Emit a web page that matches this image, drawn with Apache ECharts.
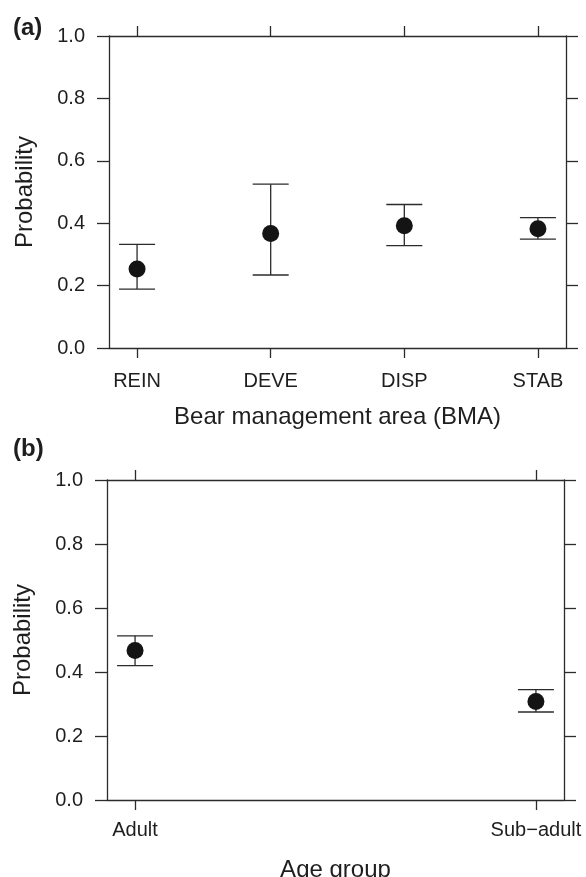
<!DOCTYPE html>
<html lang="en">
<head>
  <meta charset="UTF-8">
  <script src="https://cdn.jsdelivr.net/npm/echarts@6/dist/echarts.min.js"></script>
  <title>Probability by BMA and age group</title>
  <style>
    html, body { margin: 0; padding: 0; background: #fff; }
  </style>
</head>
<body>
  <div id="chart" style="width: 586px;height:877px;"></div>

  <script>
    // panel (a): bear management area
    var bmaCategories = ['REIN', 'DEVE', 'DISP', 'STAB'];
    var bmaEstimate = [0.253, 0.367, 0.392, 0.382];
    var bmaLower = [0.189, 0.234, 0.328, 0.349];
    var bmaUpper = [0.332, 0.525, 0.460, 0.418];

    // panel (b): age group
    var ageCategories = ['Adult', 'Sub\u2212adult'];
    var ageEstimate = [0.467, 0.308];
    var ageLower = [0.420, 0.275];
    var ageUpper = [0.513, 0.345];

    // y axis ticks (shared)
    var probTicks = [0.0, 0.2, 0.4, 0.6, 0.8, 1.0];

    var lineColor = '#2b2b2b';
    var textColor = '#1e1e1e';
    var fontFamily = '"Liberation Sans", Arial, Helvetica, sans-serif';

    var chartDom = document.getElementById('chart');
    var myChart = echarts.init(chartDom);

    // positions 1..n for each category
    function positions(cats) {
      return cats.map(function (c, i) { return i + 1; });
    }

    // lattice-like 7% padding on the x range
    function xRange(cats) {
      var pad = 0.07 * (cats.length - 1);
      return { min: 1 - pad, max: cats.length + pad };
    }

    function renderErrorBar(params, api) {
      var x = api.value(0);
      var low = api.coord([x, api.value(1)]);
      var high = api.coord([x, api.value(2)]);
      var half = 18;
      var style = { stroke: lineColor, lineWidth: 1.3 };
      return {
        type: 'group',
        children: [
          { type: 'line', shape: { x1: low[0], y1: low[1], x2: high[0], y2: high[1] }, style: style },
          { type: 'line', shape: { x1: low[0] - half, y1: low[1], x2: low[0] + half, y2: low[1] }, style: style },
          { type: 'line', shape: { x1: high[0] - half, y1: high[1], x2: high[0] + half, y2: high[1] }, style: style }
        ]
      };
    }

    // build x axes (bottom with labels, top with ticks only)
    function buildXAxes(gridIndex, cats, name, nameGap, labelMargin) {
      var r = xRange(cats);
      var ticks = positions(cats);
      var base = {
        type: 'value',
        gridIndex: gridIndex,
        min: r.min,
        max: r.max,
        splitLine: { show: false },
        axisLine: { onZero: false, lineStyle: { color: lineColor, width: 1.3 } },
        axisTick: { customValues: ticks, length: 10, lineStyle: { color: lineColor, width: 1.3 } }
      };
      var bottom = Object.assign({}, base, {
        position: 'bottom',
        name: name,
        nameLocation: 'middle',
        nameGap: nameGap,
        nameTextStyle: { fontSize: 24, color: textColor, fontFamily: fontFamily },
        axisLabel: {
          customValues: ticks,
          margin: labelMargin,
          fontSize: 20,
          color: textColor,
          fontFamily: fontFamily,
          formatter: function (v) { return cats[Math.round(v) - 1]; }
        }
      });
      var top = Object.assign({}, base, {
        position: 'top',
        axisLabel: { show: false }
      });
      return [bottom, top];
    }

    function buildYAxes(gridIndex) {
      var base = {
        type: 'value',
        gridIndex: gridIndex,
        min: probTicks[0],
        max: probTicks[probTicks.length - 1],
        interval: 0.2,
        splitLine: { show: false },
        axisLine: { onZero: false, lineStyle: { color: lineColor, width: 1.3 } },
        axisTick: { length: 12, lineStyle: { color: lineColor, width: 1.3 } }
      };
      var left = Object.assign({}, base, {
        position: 'left',
        name: 'Probability',
        nameLocation: 'middle',
        nameGap: 72,
        nameTextStyle: { fontSize: 24, color: textColor, fontFamily: fontFamily },
        axisLabel: {
          margin: 24,
          fontSize: 20,
          color: textColor,
          fontFamily: fontFamily,
          formatter: function (v) { return v.toFixed(1); }
        }
      });
      var right = Object.assign({}, base, {
        position: 'right',
        axisLabel: { show: false }
      });
      return [left, right];
    }

    function buildSeries(axisIndex, cats, est, lower, upper) {
      var pos = positions(cats);
      var barData = pos.map(function (p, i) { return [p, lower[i], upper[i]]; });
      var pointData = pos.map(function (p, i) { return [p, est[i]]; });
      return [
        {
          type: 'custom',
          xAxisIndex: axisIndex,
          yAxisIndex: axisIndex,
          renderItem: renderErrorBar,
          data: barData,
          silent: true,
          z: 2
        },
        {
          type: 'scatter',
          xAxisIndex: axisIndex,
          yAxisIndex: axisIndex,
          symbol: 'circle',
          symbolSize: 17,
          itemStyle: { color: '#141414', opacity: 1 },
          data: pointData,
          silent: true,
          z: 3
        }
      ];
    }

    var xAxes = buildXAxes(0, bmaCategories, 'Bear management area (BMA)', 57, 23)
      .concat(buildXAxes(1, ageCategories, 'Age group', 58, 20));
    var yAxes = buildYAxes(0).concat(buildYAxes(1));

    var options = {
      animation: false,
      backgroundColor: '#fff',
      title: [
        { text: '(a)', left: 8, top: 11, textStyle: { fontSize: 24, fontWeight: 'bold', color: textColor, fontFamily: fontFamily } },
        { text: '(b)', left: 8, top: 432, textStyle: { fontSize: 24, fontWeight: 'bold', color: textColor, fontFamily: fontFamily } }
      ],
      grid: [
        { left: 109, top: 36, width: 457, height: 312, outerBoundsMode: 'none', containLabel: false },
        { left: 107, top: 480, width: 457, height: 320, outerBoundsMode: 'none', containLabel: false }
      ],
      xAxis: xAxes,
      yAxis: yAxes,
      series: buildSeries(0, bmaCategories, bmaEstimate, bmaLower, bmaUpper)
        .concat(buildSeries(2, ageCategories, ageEstimate, ageLower, ageUpper))
    };

    myChart.setOption(options);
  </script>
</body>
</html>
